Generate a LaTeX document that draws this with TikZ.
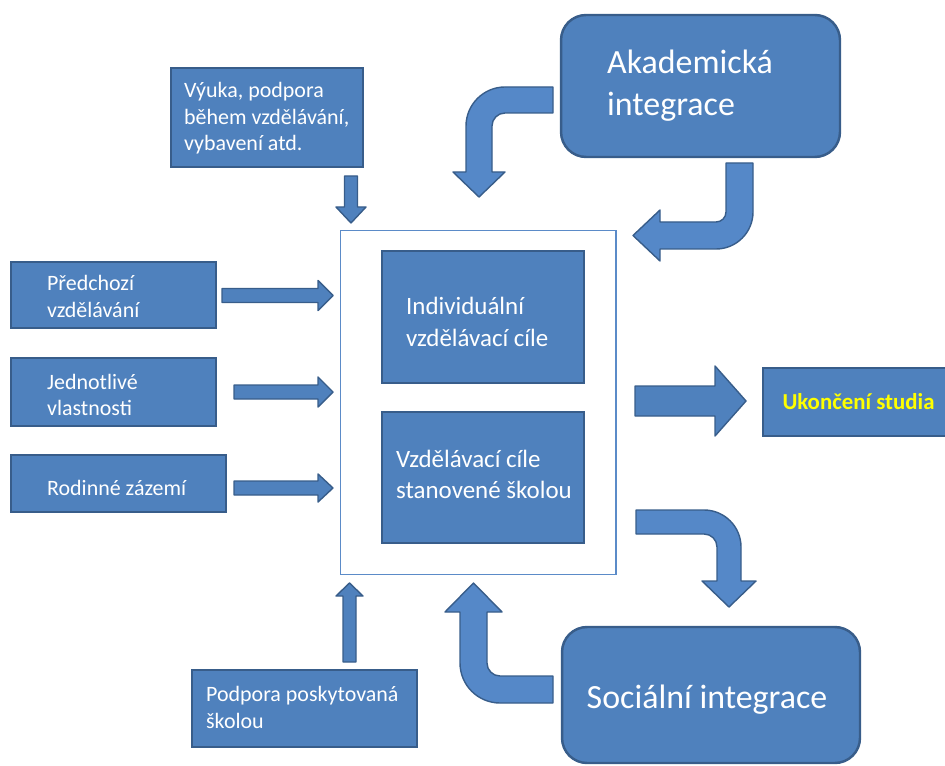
\documentclass[tikz,border=0pt]{standalone}
\usepackage{fontspec}
\setmainfont{Carlito}
\definecolor{boxfill}{HTML}{4F81BD}
\definecolor{boxline}{HTML}{385D8A}
\definecolor{arrfill}{HTML}{5588C8}
\definecolor{framec}{HTML}{5B8BC8}
\definecolor{ukyellow}{HTML}{FFFF00}
\begin{document}
\begin{tikzpicture}[x=0.02cm,y=-0.02cm,
  box/.style={draw=boxline, fill=boxfill, line width=1.4pt, inner sep=0pt},
  txt/.style={text=white, inner sep=0pt, align=left, anchor=west},
  arr/.style={draw=boxline, fill=boxfill, line width=0.8pt, line join=round},
  carr/.style={draw=boxline, fill=arrfill, line width=0.8pt, line join=round},
  smallfont/.style={font=\fontsize{12.5}{15.3}\selectfont},
  midfont/.style={font=\fontsize{14.2}{17.8}\selectfont},
  bigfont/.style={font=\fontsize{19.3}{23.8}\selectfont}]
\useasboundingbox (0,0) rectangle (945,766);

% central frame
\node[draw=framec, line width=0.6pt, minimum width=5.52cm, minimum height=6.9cm, inner sep=0pt] (frame) at (478,402.5) {};

% boxes
\node[box, minimum width=3.84cm, minimum height=1.98cm] (vyuka) at (267,117.5) {};
\node[txt, smallfont, font=\fontsize{12.5}{15}\selectfont] (vyukaT) at ([xshift=0.28cm,yshift=-0.02cm]vyuka.west) {Výuka, podpora\\během vzdělávání,\\vybavení atd.};

\node[box, minimum width=4.1cm, minimum height=1.32cm] (pred) at (113.5,295) {};
\node[txt, smallfont] (predT) at ([xshift=0.74cm,yshift=-0.03cm]pred.west) {Předchozí\\vzdělávání};

\node[box, minimum width=4.1cm, minimum height=1.36cm] (jedn) at (113.5,392) {};
\node[txt, smallfont] (jednT) at ([xshift=0.74cm,yshift=-0.06cm]jedn.west) {Jednotlivé\\vlastnosti};

\node[box, minimum width=4.3cm, minimum height=1.14cm] (rod) at (118.5,483.5) {};
\node[txt, smallfont] (rodT) at ([xshift=0.74cm,yshift=-0.08cm]rod.west) {Rodinné zázemí};

\node[box, minimum width=4.5cm, minimum height=1.54cm] (podp) at (304.5,708.5) {};
\node[txt, smallfont] (podpT) at ([xshift=0.3cm,yshift=0.02cm]podp.west) {Podpora poskytovaná\\školou};

\node[box, minimum width=4.04cm, minimum height=2.64cm] (indiv) at (483,317) {};
\node[txt, midfont] (indivT) at ([xshift=0.5cm,yshift=-0.1cm]indiv.west) {Individuální\\vzdělávací cíle};

\node[box, minimum width=4.04cm, minimum height=2.62cm] (stan) at (483,477.5) {};
\node[txt, midfont] (stanT) at ([xshift=0.3cm,yshift=0.06cm]stan.west) {Vzdělávací cíle\\stanovené školou};

\node[box, minimum width=4.04cm, minimum height=1.36cm] (ukon) at (864,402) {};
\node[inner sep=0pt, text=ukyellow, font=\fontsize{13}{15}\selectfont\bfseries] (ukonT) at (858.5,402) {Ukončení studia};

\node[box, rounded corners=0.5cm, minimum width=5.58cm, minimum height=2.84cm] (akad) at (700.5,86) {};
\node[txt, bigfont] (akadT) at ([xshift=0.94cm]akad.west) {Akademická\\integrace};

\node[box, rounded corners=0.5cm, minimum width=5.96cm, minimum height=2.72cm] (soc) at (711,695) {};
\node[inner sep=0pt, text=white, bigfont] (socT) at (707,700) {Sociální integrace};

% straight block arrows
\filldraw[arr] (222,288.5) -- (318,288.5) -- (318,280.5) -- (333,295.5) -- (318,310.5) -- (318,302.5) -- (222,302.5) -- cycle;
\filldraw[arr] (234,385) -- (318,385) -- (318,377) -- (333,392) -- (318,407) -- (318,399) -- (234,399) -- cycle;
\filldraw[arr] (234,481) -- (318,481) -- (318,474) -- (333,488) -- (318,502) -- (318,495) -- (234,495) -- cycle;
\filldraw[arr] (344.5,176) -- (357.5,176) -- (357.5,207) -- (366,207) -- (351,223) -- (336,207) -- (344.5,207) -- cycle;
\filldraw[arr] (343,662) -- (356,662) -- (356,596) -- (363,596) -- (349.5,583) -- (336,596) -- (343,596) -- cycle;
\filldraw[arr] (635,386) -- (715,386) -- (715,366) -- (746,401) -- (715,436) -- (715,416) -- (635,416) -- cycle;

% curved block arrows
\filldraw[carr] (553,87) -- (505,87) .. controls (483.5,87) and (466,104.5) .. (466,126)
  -- (466,172) -- (453,172) -- (479,197) -- (505,172) -- (492,172) -- (492,126)
  .. controls (492,118.8) and (497.8,113) .. (505,113) -- (553,113) -- cycle;
\filldraw[carr] (726,163) -- (753,163) -- (753,212) .. controls (753,232.4) and (736.4,249) .. (716,249)
  -- (660,249) -- (660,261) -- (633,235.5) -- (660,210) -- (660,222) -- (716,222)
  .. controls (721.5,222) and (726,217.5) .. (726,212) -- cycle;
\filldraw[carr] (636,510) -- (704,510) .. controls (724.4,510) and (741,526.6) .. (741,547)
  -- (741,581) -- (756,581) -- (729,607) -- (702,581) -- (717,581) -- (717,547)
  .. controls (717,539.8) and (711.2,534) .. (704,534) -- (636,534) -- cycle;
\filldraw[carr] (553,703) -- (500,703) .. controls (477.9,703) and (460,685.1) .. (460,663)
  -- (460,612) -- (445,612) -- (473.5,583) -- (502,612) -- (487,612) -- (487,663)
  .. controls (487,670.2) and (492.8,676) .. (500,676) -- (553,676) -- cycle;
\end{tikzpicture}
\end{document}
